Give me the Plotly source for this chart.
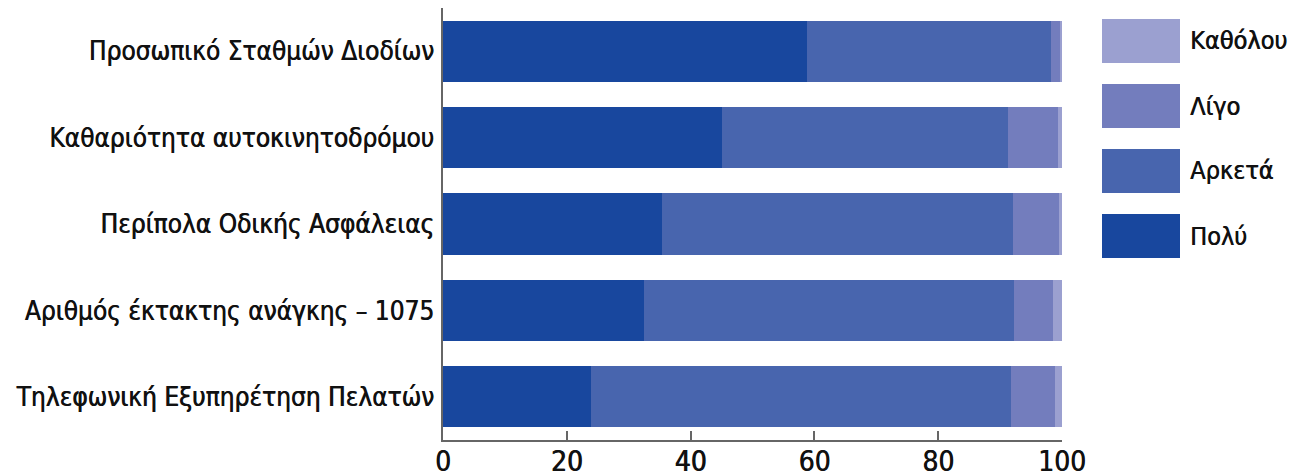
import plotly.graph_objects as go

categories = [
    "Προσωπικό Σταθμών Διοδίων",
    "Καθαριότητα αυτοκινητοδρόμου",
    "Περίπολα Οδικής Ασφάλειας",
    "Αριθμός έκτακτης ανάγκης – 1075",
    "Τηλεφωνική Εξυπηρέτηση Πελατών",
]
poly = [58.8, 45.1, 35.4, 32.4, 23.9]
arketa = [39.5, 46.2, 56.7, 59.8, 67.8]
ligo = [1.5, 8.1, 7.4, 6.4, 7.2]
katholou = [0.2, 0.6, 0.5, 1.4, 1.1]
x_ticks = [0, 20, 40, 60, 80, 100]

series_names = ["Πολύ", "Αρκετά", "Λίγο", "Καθόλου"]
series_vals = [poly, arketa, ligo, katholou]
colors = ["#18479e", "#4865ae", "#737dbd", "#9ba0d0"]

FONT = "DejaVu Sans Condensed, Liberation Sans Narrow, Roboto, sans-serif"
SHADOW = "0.6px 0 0 #111111"

# page body has an 8px margin: figure coords = screen coords - 8
OFF = 8
PL, PR, PT, PB = 443 - OFF, 1062 - OFF, 8 - OFF, 440 - OFF
W, H = 1288, 463

fig = go.Figure()
for name, vals, col in zip(series_names, series_vals, colors):
    fig.add_trace(go.Bar(
        y=categories, x=vals, name=name, orientation="h",
        marker=dict(color=col, line=dict(width=0)),
        hoverinfo="x+y+name",
    ))

fig.update_layout(
    barmode="stack",
    bargap=0.29,
    width=W, height=H,
    margin=dict(l=PL, r=W - PR, t=PT, b=H - PB, autoexpand=False),
    paper_bgcolor="white", plot_bgcolor="white",
    showlegend=False,
    font=dict(family=FONT, size=26, color="#111111"),
)
fig.update_xaxes(
    range=[0, 100], tickvals=x_ticks, ticks="inside", ticklen=9,
    tickcolor="#666666", tickwidth=1.5, showline=True, linecolor="#666666",
    linewidth=1.5, showgrid=False, zeroline=False,
    ticklabelstandoff=-4,
    tickfont=dict(size=28, family=FONT, color="#111111", shadow=SHADOW),
)
fig.update_yaxes(
    categoryorder="array", categoryarray=categories, autorange="reversed",
    showline=True, linecolor="#666666", linewidth=1.5, showgrid=False,
    ticks="", ticklabelstandoff=2,
    tickfont=dict(size=26, family=FONT, color="#111111", shadow=SHADOW),
)

# custom legend with large swatches
legend_order = ["Καθόλου", "Λίγο", "Αρκετά", "Πολύ"]
legend_colors = {n: c for n, c in zip(series_names, colors)}
pw, ph = PR - PL, PB - PT
for i, name in enumerate(legend_order):
    y0 = 19 + i * 65 - OFF
    y1 = y0 + 44
    fig.add_shape(type="rect", xref="paper", yref="paper",
                  x0=(1102 - OFF - PL) / pw, x1=(1180 - OFF - PL) / pw,
                  y0=(PB - y1) / ph, y1=(PB - y0) / ph,
                  fillcolor=legend_colors[name], line=dict(width=0))
    fig.add_annotation(xref="paper", yref="paper",
                       x=(1188 - OFF - PL) / pw, y=(PB - (y0 + y1) / 2) / ph,
                       text=name, showarrow=False, xanchor="left", yanchor="middle",
                       font=dict(size=25, family=FONT, color="#111111", shadow=SHADOW))

fig.write_html("out.html")
